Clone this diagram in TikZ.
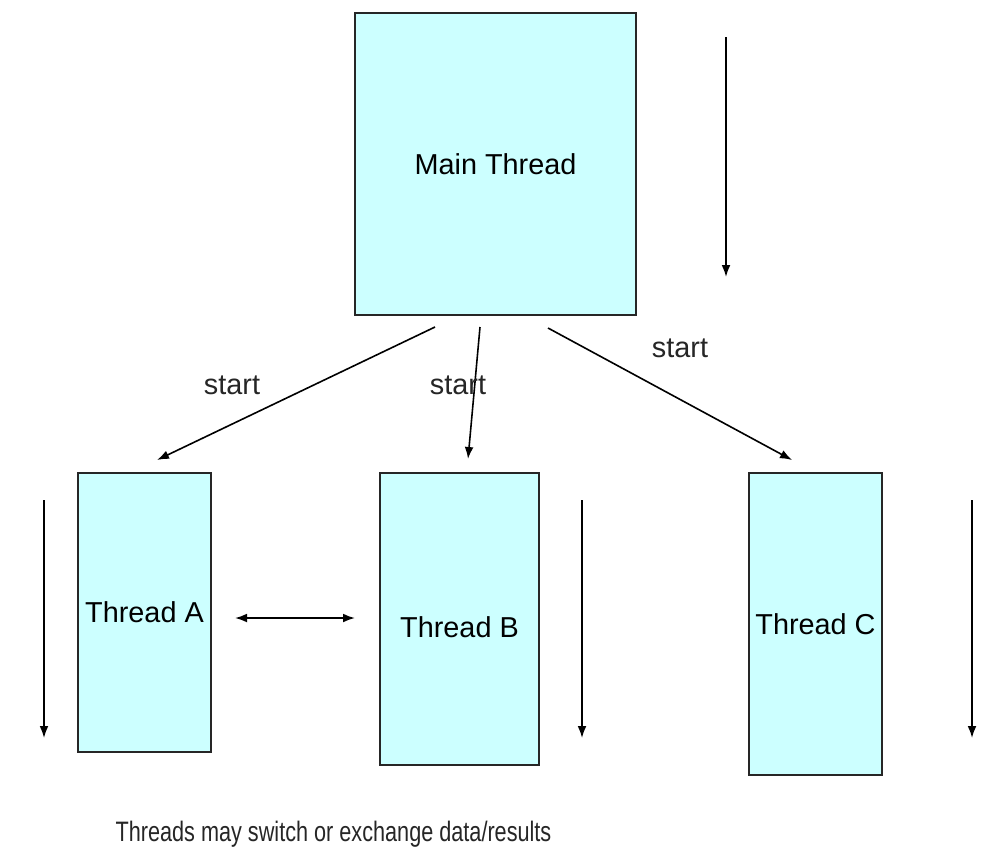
\documentclass[tikz,border=0pt]{standalone}
\usepackage{fontspec}
\setmainfont{Liberation Sans}
\usetikzlibrary{arrows.meta}
\definecolor{threadcyan}{RGB}{204,255,255}

\begin{document}
\begin{tikzpicture}[x=0.025cm, y=-0.025cm]
						\tikzstyle{threadbox}=[fill=threadcyan, draw=black!85, line width=.45mm, rectangle, inner sep=0pt, font=\fontsize{20.5}{24}\selectfont]
						\tikzstyle{flow}=[line width=.4mm, -{Latex[length=3mm,width=2.2mm]}]
						\tikzstyle{lbl}=[font=\fontsize{20.5}{24}\selectfont, text=black!85]
						\useasboundingbox (0,0) rectangle (984,851);
						\path (495.5,164) node[threadbox, minimum width=7.025cm, minimum height=7.55cm] (main) {Main Thread};
	    					\path (144.5,612.5) node[threadbox, minimum width=3.325cm, minimum height=6.975cm] (ta) {Thread A};
	    					\path (459.5,619) node[threadbox, minimum width=3.975cm, minimum height=7.3cm, text height=0.95cm] (tb) {Thread B};
	    					\path (815.5,624) node[threadbox, minimum width=3.325cm, minimum height=7.55cm] (tc) {Thread C};
	    					% start arrows
	    					\coordinate (sa) at (435,327);  \coordinate (ea) at (157,460);
	    					\coordinate (sb) at (480,327);  \coordinate (eb) at (468,459);
	    					\coordinate (sc) at (548,328);  \coordinate (ec) at (792,460);
		    				\draw[flow] (sa) -- (ea);
		    				\draw[flow] (sb) -- (eb);
		    				\draw[flow] (sc) -- (ec);
		    				\path (232,385) node[lbl] (la) {start};
		    				\path (458,385) node[lbl] (lb) {start};
		    				\path (680,348) node[lbl] (lc) {start};
		    				% time lines
		    				\coordinate (mt) at (726,37);  \coordinate (mb) at (726,277);
		    				\coordinate (at) at (44,500);  \coordinate (ab) at (44,738);
		    				\coordinate (bt) at (582,500); \coordinate (bb) at (582,738);
		    				\coordinate (ct) at (972,500); \coordinate (cb) at (972,738);
		    				\draw[flow] (mt) -- (mb);
		    				\draw[flow] (at) -- (ab);
		    				\draw[flow] (bt) -- (bb);
		    				\draw[flow] (ct) -- (cb);
		    				% exchange
		    				\coordinate (xl) at (235,618); \coordinate (xr) at (355,618);
		    				\draw[flow, {Latex[length=3mm,width=2.2mm]}-{Latex[length=3mm,width=2.2mm]}] (xl) -- (xr);
		    				\path (333.5,834) node[lbl, font=\fontsize{20}{24}\selectfont] (note) {\scalebox{0.77}[1]{Threads may switch or exchange data/results}};
		    	\end{tikzpicture}
\end{document}
